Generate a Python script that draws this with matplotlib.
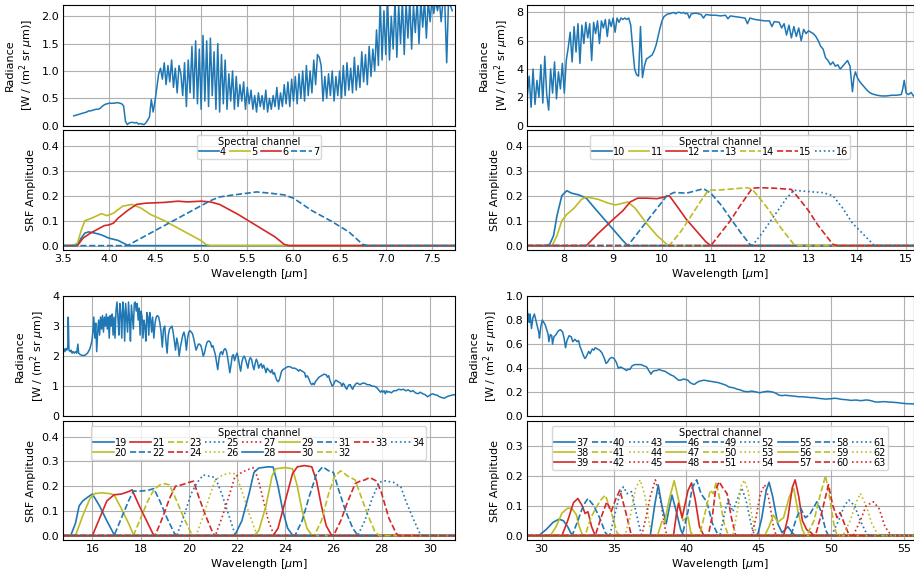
import matplotlib.pyplot as plt
import numpy as np

plt.rcParams['font.size'] = 8
plt.rcParams['xtick.major.size'] = 0
plt.rcParams['ytick.major.size'] = 0
plt.rcParams['xtick.major.pad'] = 3
plt.rcParams['ytick.major.pad'] = 2.5

BLUE, OLIVE, RED = '#1f77b4', '#bcbd22', '#d62728'
colours = [BLUE, OLIVE, RED]
styles = ['-', '--', ':']

# ---------------------------------------------------------------- radiance
# band 1 is sampled on a regular 0.02 um grid starting at 3.62 um
rad1_start, rad1_step = 3.62, 0.02
rad1 = [0.18, 0.19, 0.20, 0.21, 0.22, 0.23, 0.24, 0.25, 0.27, 0.27, 0.28, 0.29, 0.30, 0.30,
        0.31, 0.34, 0.37, 0.39, 0.40, 0.41, 0.41, 0.41, 0.41, 0.42, 0.42, 0.41, 0.40, 0.36,
        0.08, 0.02, 0.05, 0.06, 0.06, 0.05, 0.06, 0.03, 0.04, 0.03, 0.02, 0.05, 0.10, 0.16,
        0.48, 0.25, 0.45, 0.70, 0.95, 1.05, 0.85, 1.15, 0.75, 1.10, 0.80, 1.20, 0.70, 1.05,
        0.60, 1.10, 0.95, 0.55, 1.15, 0.35, 1.20, 0.60, 1.45, 0.50, 1.55, 0.40, 1.40, 0.30,
        1.65, 0.45, 1.55, 0.35, 1.60, 0.55, 1.35, 0.30, 1.50, 0.25, 1.30, 0.40, 1.20, 0.30,
        0.95, 0.45, 1.00, 0.30, 0.90, 0.35, 0.75, 0.45, 0.80, 0.30, 0.70, 0.40, 0.65, 0.30,
        0.55, 0.25, 0.60, 0.35, 0.55, 0.30, 0.65, 0.25, 0.50, 0.30, 0.55, 0.35, 0.70, 0.30,
        0.60, 0.35, 0.75, 0.40, 0.80, 0.35, 0.85, 0.45, 0.90, 0.40, 0.95, 0.50, 1.00, 0.45,
        1.10, 0.55, 1.00, 0.60, 1.20, 0.75, 1.30, 1.25, 1.10, 0.45, 0.90, 0.50, 0.95, 0.55,
        1.00, 0.45, 0.90, 0.55, 1.00, 0.50, 1.10, 0.55, 1.15, 0.65, 1.05, 0.60, 1.25, 0.65,
        1.10, 0.70, 1.35, 0.80, 1.30, 0.75, 1.45, 0.90, 1.40, 1.00, 1.75, 1.10, 2.30, 1.20,
        2.10, 1.30, 2.30, 1.20, 2.00, 1.40, 2.30, 1.25, 2.20, 1.50, 2.30, 1.30, 2.25, 1.60,
        2.30, 1.40, 2.20, 1.70, 2.30, 1.50, 2.30, 1.80, 2.30, 1.60, 2.30, 1.90, 2.30, 2.05,
        2.30, 2.10, 2.30, 1.90, 2.30, 2.20, 1.15, 2.30, 2.20, 2.10]

rad2 = [(7.24, 2.0), (7.28, 3.5), (7.32, 1.3), (7.36, 4.0), (7.40, 1.5), (7.44, 3.2),
        (7.48, 2.0), (7.52, 4.3), (7.56, 1.6), (7.60, 4.9), (7.64, 2.2), (7.68, 1.1),
        (7.72, 4.0), (7.76, 2.3), (7.80, 4.5), (7.84, 1.9), (7.88, 3.8), (7.92, 2.6),
        (7.96, 4.4), (8.00, 2.3), (8.04, 4.6), (8.08, 5.5), (8.12, 6.6), (8.16, 4.5),
        (8.20, 7.0), (8.24, 5.2), (8.28, 7.2), (8.32, 4.4), (8.36, 7.1), (8.40, 5.8),
        (8.44, 7.3), (8.48, 6.2), (8.52, 7.2), (8.56, 4.6), (8.60, 7.3), (8.64, 6.5),
        (8.68, 7.4), (8.72, 5.8), (8.76, 7.4), (8.80, 6.9), (8.84, 7.5), (8.88, 6.3),
        (8.92, 7.5), (8.96, 7.0), (9.00, 7.6), (9.04, 6.6), (9.08, 7.6), (9.12, 7.3),
        (9.16, 7.6), (9.20, 7.5), (9.24, 7.6), (9.28, 7.5), (9.32, 7.6), (9.36, 7.1),
        (9.40, 5.5), (9.44, 4.0), (9.48, 3.6), (9.52, 3.5), (9.56, 7.0), (9.60, 3.4),
        (9.64, 4.2), (9.68, 4.7), (9.72, 4.8), (9.76, 4.9), (9.80, 5.0), (9.84, 5.3),
        (9.88, 5.7), (9.92, 6.3), (9.96, 6.9), (10.00, 7.4), (10.04, 7.7), (10.08, 7.8),
        (10.12, 7.9), (10.16, 7.9), (10.20, 7.95), (10.24, 8.0), (10.28, 7.9), (10.32, 8.0),
        (10.36, 8.0), (10.40, 7.95), (10.44, 8.0), (10.48, 7.9), (10.52, 7.95), (10.56, 7.6),
        (10.60, 7.9), (10.70, 7.95), (10.80, 7.85), (10.85, 7.6), (10.90, 7.85), (11.00, 7.8),
        (11.10, 7.8), (11.20, 7.75), (11.30, 7.8), (11.35, 7.55), (11.40, 7.75), (11.50, 7.7),
        (11.60, 7.65), (11.70, 7.6), (11.75, 7.2), (11.80, 7.6), (11.90, 7.5), (12.00, 7.45),
        (12.10, 7.4), (12.20, 7.4), (12.25, 7.0), (12.30, 7.35), (12.40, 7.3), (12.45, 6.9),
        (12.50, 7.2), (12.55, 6.4), (12.60, 7.1), (12.65, 6.2), (12.70, 7.0), (12.75, 6.3),
        (12.80, 6.9), (12.85, 6.0), (12.90, 6.8), (12.95, 6.5), (13.00, 6.7), (13.05, 6.6),
        (13.10, 6.5), (13.15, 6.3), (13.20, 6.0), (13.25, 5.6), (13.30, 5.4), (13.35, 4.8),
        (13.40, 4.6), (13.45, 4.3), (13.50, 4.5), (13.55, 4.2), (13.60, 4.3), (13.65, 4.0),
        (13.70, 4.2), (13.75, 4.4), (13.80, 4.6), (13.85, 4.2), (13.90, 2.4), (13.93, 3.4),
        (13.96, 3.8), (14.00, 3.4), (14.05, 3.1), (14.10, 2.9), (14.15, 2.7), (14.20, 2.5),
        (14.25, 2.35), (14.30, 2.25), (14.40, 2.15), (14.50, 2.1), (14.60, 2.1), (14.70, 2.15),
        (14.80, 2.15), (14.90, 2.2), (14.93, 2.6), (14.96, 3.2), (15.00, 2.3), (15.05, 2.2),
        (15.10, 2.35), (15.15, 2.1)]

rad3 = [(14.78, 2.2), (14.82, 2.25), (14.86, 2.15), (14.90, 2.25), (14.94, 2.2), (14.98, 2.3),
        (15.00, 3.3), (15.03, 2.2), (15.08, 2.15), (15.12, 2.2), (15.16, 2.1), (15.20, 2.15),
        (15.25, 2.1), (15.30, 2.15), (15.35, 2.1), (15.40, 2.4), (15.43, 2.1), (15.50, 2.05),
        (15.60, 2.02), (15.70, 2.03), (15.80, 2.1), (15.90, 2.25), (15.98, 2.5), (16.02, 2.8),
        (16.06, 3.3), (16.10, 2.6), (16.14, 3.1), (16.18, 2.15), (16.22, 2.8), (16.26, 3.2),
        (16.30, 2.7), (16.34, 3.3), (16.38, 2.9), (16.42, 3.35), (16.46, 2.8), (16.50, 3.3),
        (16.54, 3.0), (16.58, 3.4), (16.62, 2.9), (16.66, 3.3), (16.70, 2.6), (16.74, 3.35),
        (16.78, 3.0), (16.82, 3.4), (16.86, 2.7), (16.90, 3.3), (16.94, 2.6), (16.98, 3.5),
        (17.02, 3.8), (17.06, 3.3), (17.10, 2.7), (17.14, 3.75), (17.18, 3.4), (17.22, 2.6),
        (17.26, 3.8), (17.30, 3.5), (17.34, 2.5), (17.38, 3.75), (17.42, 3.3), (17.46, 2.8),
        (17.50, 3.8), (17.54, 3.2), (17.58, 2.5), (17.62, 3.7), (17.66, 3.3), (17.70, 2.9),
        (17.74, 3.75), (17.78, 3.8), (17.82, 3.5), (17.86, 3.75), (17.90, 3.2), (17.94, 3.6),
        (17.98, 2.7), (18.02, 3.5), (18.06, 3.3), (18.10, 2.6), (18.14, 3.2), (18.18, 3.0),
        (18.22, 2.5), (18.26, 3.45), (18.30, 3.3), (18.34, 2.7), (18.38, 3.45), (18.42, 3.2),
        (18.46, 2.8), (18.50, 3.3), (18.55, 2.6), (18.60, 3.1), (18.65, 3.3), (18.70, 3.35),
        (18.75, 3.3), (18.80, 3.1), (18.85, 2.8), (18.90, 2.3), (18.95, 2.9), (19.00, 3.0),
        (19.05, 2.5), (19.10, 2.1), (19.15, 2.7), (19.20, 2.9), (19.25, 2.95), (19.30, 3.0),
        (19.35, 2.8), (19.40, 2.5), (19.45, 2.2), (19.50, 2.6), (19.55, 2.4), (19.60, 2.0),
        (19.65, 2.3), (19.70, 2.5), (19.75, 2.7), (19.80, 2.8), (19.85, 2.6), (19.90, 2.2),
        (19.95, 2.6), (20.00, 2.8), (20.05, 2.85), (20.10, 2.8), (20.15, 2.75), (20.20, 2.6),
        (20.25, 2.4), (20.30, 2.2), (20.35, 2.3), (20.40, 2.4), (20.45, 2.4), (20.50, 2.35),
        (20.55, 2.2), (20.60, 2.0), (20.65, 2.1), (20.70, 2.3), (20.75, 2.45), (20.80, 2.5),
        (20.85, 2.5), (20.90, 2.45), (20.95, 2.3), (21.00, 2.35), (21.05, 2.2), (21.10, 2.05),
        (21.15, 1.8), (21.20, 1.55), (21.25, 1.9), (21.30, 2.1), (21.35, 2.15), (21.40, 2.05),
        (21.45, 2.2), (21.50, 2.25), (21.55, 2.2), (21.60, 2.0), (21.65, 1.75), (21.70, 1.45),
        (21.75, 1.7), (21.80, 2.0), (21.85, 2.05), (21.90, 1.85), (21.95, 2.0), (22.00, 2.1),
        (22.05, 1.95), (22.10, 1.7), (22.15, 1.5), (22.20, 1.8), (22.25, 1.95), (22.30, 2.0),
        (22.35, 1.9), (22.40, 1.75), (22.45, 1.6), (22.50, 1.85), (22.55, 1.95), (22.60, 1.9),
        (22.65, 1.7), (22.70, 1.55), (22.75, 1.75), (22.80, 1.9), (22.85, 1.8), (22.90, 1.6),
        (22.95, 1.7), (23.00, 1.75), (23.05, 1.6), (23.10, 1.7), (23.15, 1.6), (23.20, 1.45),
        (23.25, 1.6), (23.30, 1.55), (23.35, 1.5), (23.40, 1.45), (23.45, 1.55), (23.50, 1.4),
        (23.55, 1.45), (23.60, 1.3), (23.65, 1.2), (23.70, 1.15), (23.75, 1.2), (23.80, 1.35),
        (23.85, 1.5), (23.90, 1.55), (24.00, 1.6), (24.10, 1.65), (24.20, 1.65), (24.30, 1.6),
        (24.40, 1.6), (24.50, 1.55), (24.55, 1.5), (24.60, 1.55), (24.70, 1.5), (24.80, 1.45),
        (24.85, 1.3), (24.90, 1.35), (24.95, 1.3), (25.00, 1.2), (25.05, 1.1), (25.10, 1.05),
        (25.15, 1.1), (25.20, 1.05), (25.25, 1.15), (25.30, 1.2), (25.35, 1.25), (25.40, 1.3),
        (25.50, 1.35), (25.60, 1.4), (25.70, 1.38), (25.75, 1.3), (25.80, 1.35), (25.85, 1.2),
        (25.90, 1.1), (25.95, 1.0), (26.00, 1.05), (26.05, 1.15), (26.10, 1.2), (26.20, 1.15),
        (26.30, 1.1), (26.35, 1.0), (26.40, 1.1), (26.45, 1.05), (26.50, 0.95), (26.55, 0.9),
        (26.60, 1.0), (26.65, 1.05), (26.70, 1.05), (26.75, 0.95), (26.80, 0.9), (26.85, 1.0),
        (26.90, 1.05), (26.95, 1.1), (27.00, 1.1), (27.10, 1.05), (27.20, 1.1), (27.30, 1.1),
        (27.40, 1.05), (27.50, 1.05), (27.60, 1.0), (27.70, 1.0), (27.80, 0.95), (27.85, 0.9),
        (27.90, 0.85), (27.95, 0.8), (28.00, 0.85), (28.05, 0.8), (28.10, 0.85), (28.15, 0.75),
        (28.20, 0.85), (28.25, 0.8), (28.30, 0.82), (28.40, 0.78), (28.50, 0.85), (28.60, 0.85),
        (28.70, 0.9), (28.80, 0.88), (28.90, 0.9), (29.00, 0.85), (29.10, 0.88), (29.20, 0.82),
        (29.30, 0.85), (29.40, 0.78), (29.50, 0.75), (29.60, 0.8), (29.70, 0.75), (29.80, 0.72),
        (29.90, 0.65), (30.00, 0.7), (30.10, 0.75), (30.20, 0.72), (30.30, 0.7), (30.40, 0.65),
        (30.50, 0.62), (30.60, 0.6), (30.70, 0.65), (30.80, 0.68), (30.90, 0.7), (31.00, 0.72),
        (31.05, 0.71)]

rad4 = [(29.00, 0.9), (29.05, 0.8), (29.10, 0.85), (29.15, 0.78), (29.20, 0.85), (29.25, 0.8),
        (29.30, 0.73), (29.40, 0.82), (29.50, 0.85), (29.60, 0.8), (29.70, 0.75), (29.80, 0.7),
        (29.85, 0.65), (29.95, 0.75), (30.05, 0.8), (30.15, 0.78), (30.25, 0.76), (30.35, 0.72),
        (30.45, 0.68), (30.50, 0.62), (30.60, 0.68), (30.70, 0.67), (30.75, 0.6), (30.85, 0.66),
        (31.00, 0.68), (31.15, 0.71), (31.30, 0.72), (31.45, 0.7), (31.55, 0.65), (31.65, 0.57),
        (31.75, 0.63), (31.90, 0.67), (32.05, 0.66), (32.15, 0.62), (32.30, 0.64), (32.45, 0.62),
        (32.55, 0.63), (32.65, 0.58), (32.75, 0.55), (32.90, 0.5), (33.00, 0.48), (33.10, 0.5),
        (33.25, 0.54), (33.35, 0.52), (33.50, 0.56), (33.60, 0.55), (33.70, 0.57), (33.85, 0.56),
        (34.00, 0.55), (34.15, 0.53), (34.30, 0.49), (34.45, 0.44), (34.55, 0.45), (34.70, 0.48),
        (34.85, 0.49), (35.00, 0.48), (35.15, 0.45), (35.30, 0.4), (35.45, 0.41), (35.60, 0.4),
        (35.75, 0.39), (35.85, 0.38), (35.95, 0.39), (36.10, 0.39), (36.25, 0.42), (36.45, 0.43),
        (36.65, 0.43), (36.85, 0.43), (37.05, 0.42), (37.25, 0.41), (37.40, 0.38), (37.55, 0.35),
        (37.65, 0.37), (37.80, 0.38), (37.95, 0.38), (38.10, 0.39), (38.30, 0.38), (38.50, 0.375),
        (38.70, 0.36), (38.90, 0.345), (39.10, 0.335), (39.30, 0.315), (39.45, 0.3), (39.60, 0.3),
        (39.80, 0.31), (39.95, 0.305), (40.10, 0.3), (40.25, 0.28), (40.40, 0.27), (40.55, 0.265),
        (40.70, 0.28), (40.85, 0.29), (41.00, 0.295), (41.20, 0.3), (41.45, 0.295), (41.70, 0.29),
        (41.95, 0.285), (42.20, 0.28), (42.45, 0.27), (42.70, 0.26), (42.90, 0.245), (43.10, 0.24),
        (43.30, 0.235), (43.50, 0.225), (43.70, 0.22), (43.90, 0.21), (44.10, 0.205), (44.30, 0.205),
        (44.50, 0.21), (44.70, 0.205), (44.90, 0.2), (45.05, 0.195), (45.20, 0.2), (45.40, 0.205),
        (45.60, 0.208), (45.80, 0.205), (46.00, 0.2), (46.20, 0.19), (46.40, 0.175), (46.60, 0.172),
        (46.80, 0.175), (47.00, 0.173), (47.20, 0.17), (47.40, 0.168), (47.60, 0.165), (47.80, 0.162),
        (48.00, 0.163), (48.20, 0.16), (48.40, 0.158), (48.60, 0.155), (48.80, 0.155), (49.00, 0.152),
        (49.20, 0.148), (49.40, 0.146), (49.60, 0.143), (49.80, 0.145), (50.00, 0.146), (50.20, 0.15),
        (50.40, 0.148), (50.60, 0.143), (50.80, 0.14), (51.00, 0.138), (51.20, 0.135), (51.40, 0.132),
        (51.60, 0.135), (51.80, 0.134), (52.00, 0.13), (52.20, 0.132), (52.40, 0.136), (52.60, 0.133),
        (52.80, 0.128), (53.00, 0.12), (53.20, 0.118), (53.40, 0.12), (53.60, 0.122), (53.80, 0.12),
        (54.00, 0.118), (54.20, 0.117), (54.40, 0.115), (54.60, 0.113), (54.80, 0.11), (55.00, 0.107),
        (55.20, 0.105), (55.40, 0.104), (55.67, 0.103)]

# ---------------------------------------------------------------- SRFs
# (wavelength, amplitude) knots of the non-zero part of each channel
b1_channels = [4, 5, 6, 7]
b1_srf = [
    [(3.62, 0), (3.66, 0.005), (3.70, 0.03), (3.74, 0.05), (3.78, 0.055), (3.85, 0.05),
     (3.92, 0.043), (4.0, 0.03), (4.1, 0.021), (4.2, 0.002), (4.22, 0)],
    [(3.62, 0.002), (3.66, 0.01), (3.70, 0.06), (3.74, 0.1), (3.78, 0.105), (3.85, 0.116),
     (3.92, 0.128), (3.98, 0.12), (4.05, 0.13), (4.15, 0.158), (4.25, 0.165), (4.35, 0.15),
     (4.45, 0.125), (4.6, 0.1), (4.75, 0.07), (4.9, 0.04), (5.0, 0.02), (5.05, 0.005), (5.1, 0)],
    [(3.66, 0), (3.72, 0.03), (3.8, 0.05), (3.9, 0.07), (3.95, 0.08), (4.0, 0.083), (4.05, 0.09),
     (4.1, 0.11), (4.2, 0.14), (4.3, 0.165), (4.4, 0.17), (4.6, 0.173), (4.75, 0.178),
     (4.85, 0.175), (5.0, 0.178), (5.1, 0.175), (5.2, 0.165), (5.4, 0.125), (5.6, 0.08),
     (5.8, 0.035), (5.9, 0.005), (5.95, 0)],
    [(4.2, 0), (4.4, 0.04), (4.6, 0.08), (4.8, 0.12), (5.0, 0.16), (5.1, 0.18), (5.2, 0.195),
     (5.35, 0.203), (5.5, 0.21), (5.6, 0.215), (5.75, 0.21), (5.9, 0.203), (6.0, 0.19),
     (6.2, 0.14), (6.4, 0.1), (6.6, 0.055), (6.75, 0.005), (6.8, 0)],
]

b2_channels = [10, 11, 12, 13, 14, 15, 16]
b2_srf = [
    [(7.6, 0), (7.7, 0.005), (7.78, 0.04), (7.85, 0.12), (7.95, 0.2), (8.05, 0.22), (8.15, 0.21),
     (8.3, 0.203), (8.45, 0.19), (8.6, 0.155), (8.8, 0.11), (9.0, 0.065), (9.2, 0.02), (9.3, 0)],
    [(7.75, 0), (7.85, 0.04), (7.95, 0.1), (8.05, 0.125), (8.2, 0.15), (8.35, 0.185),
     (8.45, 0.195), (8.7, 0.185), (8.9, 0.17), (9.05, 0.163), (9.2, 0.17), (9.3, 0.175),
     (9.45, 0.15), (9.7, 0.085), (9.9, 0.04), (10.1, 0.005), (10.15, 0)],
    [(8.45, 0), (8.7, 0.05), (9.0, 0.105), (9.2, 0.14), (9.35, 0.175), (9.5, 0.19), (9.7, 0.19),
     (9.9, 0.188), (10.05, 0.195), (10.15, 0.2), (10.3, 0.16), (10.5, 0.105), (10.7, 0.06),
     (10.9, 0.015), (11.0, 0)],
    [(9.3, 0), (9.5, 0.05), (9.7, 0.1), (9.9, 0.15), (10.1, 0.2), (10.25, 0.213), (10.5, 0.21),
     (10.7, 0.22), (10.85, 0.228), (11.0, 0.21), (11.2, 0.165), (11.4, 0.11), (11.6, 0.055),
     (11.8, 0.005), (11.85, 0)],
    [(10.15, 0), (10.4, 0.06), (10.6, 0.12), (10.8, 0.18), (10.95, 0.222), (11.2, 0.223),
     (11.5, 0.228), (11.75, 0.232), (11.85, 0.225), (12.0, 0.19), (12.2, 0.14), (12.4, 0.08),
     (12.6, 0.03), (12.7, 0.005), (12.8, 0)],
    [(11.0, 0), (11.2, 0.05), (11.4, 0.1), (11.6, 0.16), (11.85, 0.23), (12.0, 0.232),
     (12.3, 0.23), (12.65, 0.225), (12.8, 0.19), (13.0, 0.14), (13.2, 0.08), (13.4, 0.03),
     (13.5, 0.005), (13.6, 0)],
    [(11.85, 0), (12.05, 0.05), (12.3, 0.12), (12.55, 0.19), (12.7, 0.222), (12.9, 0.218),
     (13.1, 0.215), (13.3, 0.212), (13.5, 0.2), (13.7, 0.15), (13.9, 0.09), (14.1, 0.05),
     (14.3, 0.01), (14.35, 0)],
]

b3_channels = list(range(19, 35))
b3_srf = [
    [(15.1, 0), (15.3, 0.05), (15.45, 0.12), (15.6, 0.14), (15.8, 0.155), (16.0, 0.168),
     (16.3, 0.12), (16.6, 0.06), (16.9, 0.005), (17.0, 0)],
    [(15.3, 0), (15.6, 0.08), (15.9, 0.15), (16.1, 0.17), (16.4, 0.173), (16.7, 0.17),
     (16.9, 0.165), (17.2, 0.11), (17.5, 0.05), (17.7, 0.005), (17.8, 0)],
    [(16.0, 0), (16.3, 0.07), (16.6, 0.14), (16.9, 0.165), (17.2, 0.168), (17.5, 0.178),
     (17.65, 0.185), (17.9, 0.13), (18.2, 0.07), (18.5, 0.01), (18.6, 0)],
    [(16.9, 0), (17.2, 0.07), (17.5, 0.14), (17.7, 0.18), (18.0, 0.18), (18.3, 0.183),
     (18.55, 0.19), (18.8, 0.14), (19.1, 0.07), (19.4, 0.01), (19.5, 0)],
    [(17.7, 0), (18.0, 0.07), (18.3, 0.14), (18.55, 0.185), (18.8, 0.205), (19.0, 0.21),
     (19.2, 0.205), (19.5, 0.14), (19.8, 0.07), (20.1, 0.01), (20.2, 0)],
    [(18.6, 0), (18.9, 0.07), (19.2, 0.15), (19.45, 0.2), (19.7, 0.205), (20.0, 0.215),
     (20.2, 0.22), (20.4, 0.16), (20.7, 0.08), (21.0, 0.01), (21.1, 0)],
    [(19.5, 0), (19.8, 0.08), (20.1, 0.17), (20.35, 0.215), (20.6, 0.245), (20.85, 0.24),
     (21.1, 0.235), (21.4, 0.16), (21.7, 0.07), (21.9, 0.01), (22.0, 0)],
    [(20.3, 0), (20.6, 0.08), (20.9, 0.17), (21.1, 0.225), (21.4, 0.245), (21.7, 0.252),
     (21.95, 0.25), (22.2, 0.18), (22.5, 0.09), (22.8, 0.01), (22.9, 0)],
    [(21.1, 0), (21.4, 0.08), (21.7, 0.17), (21.9, 0.235), (22.1, 0.25), (22.4, 0.265),
     (22.7, 0.275), (22.9, 0.22), (23.1, 0.14), (23.3, 0.06), (23.5, 0.01), (23.6, 0)],
    [(21.9, 0), (22.2, 0.06), (22.5, 0.17), (22.7, 0.255), (22.9, 0.273), (23.3, 0.278),
     (23.5, 0.277), (23.7, 0.2), (23.9, 0.1), (24.1, 0.03), (24.3, 0.002), (24.4, 0)],
    [(22.7, 0), (22.9, 0.02), (23.2, 0.12), (23.45, 0.24), (23.6, 0.27), (24.0, 0.275),
     (24.3, 0.27), (24.5, 0.2), (24.7, 0.1), (24.9, 0.03), (25.1, 0.002), (25.2, 0)],
    [(23.5, 0), (23.7, 0.03), (24.0, 0.14), (24.3, 0.25), (24.5, 0.278), (24.8, 0.283),
     (25.1, 0.278), (25.3, 0.22), (25.5, 0.12), (25.7, 0.04), (25.9, 0.005), (26.0, 0)],
    [(24.4, 0), (24.7, 0.06), (25.0, 0.16), (25.3, 0.25), (25.55, 0.278), (25.8, 0.262),
     (26.0, 0.255), (26.2, 0.19), (26.5, 0.1), (26.8, 0.03), (27.0, 0.002), (27.1, 0)],
    [(25.2, 0), (25.5, 0.06), (25.8, 0.17), (26.05, 0.24), (26.3, 0.262), (26.6, 0.24),
     (26.9, 0.225), (27.1, 0.17), (27.4, 0.09), (27.7, 0.02), (27.9, 0)],
    [(26.0, 0), (26.3, 0.06), (26.6, 0.14), (26.9, 0.21), (27.1, 0.22), (27.3, 0.225),
     (27.5, 0.235), (27.8, 0.22), (28.0, 0.17), (28.3, 0.07), (28.6, 0.01), (28.7, 0)],
    [(27.0, 0), (27.3, 0.06), (27.6, 0.15), (27.9, 0.215), (28.1, 0.222), (28.5, 0.215),
     (28.8, 0.195), (29.0, 0.14), (29.3, 0.07), (29.6, 0.005), (29.7, 0)],
]

b4_channels = list(range(37, 64))
b4_srf = [
    [(29.8, 0), (30.3, 0.02), (30.8, 0.045), (31.2, 0.055), (31.5, 0.05), (31.8, 0.03),
     (32.0, 0.01), (32.2, 0)],
    [(30.6, 0), (31.0, 0.03), (31.4, 0.075), (31.8, 0.092), (32.1, 0.09), (32.4, 0.07),
     (32.6, 0.03), (32.8, 0.005), (33.0, 0)],
    [(31.4, 0), (31.8, 0.05), (32.2, 0.11), (32.5, 0.124), (32.8, 0.1), (33.0, 0.074),
     (33.2, 0.08), (33.45, 0.03), (33.7, 0)],
    [(32.1, 0), (32.5, 0.05), (32.8, 0.09), (33.0, 0.11), (33.2, 0.124), (33.6, 0.1),
     (34.0, 0.06), (34.4, 0.01), (34.6, 0)],
    [(33.0, 0), (33.4, 0.06), (33.8, 0.097), (34.1, 0.12), (34.4, 0.135), (34.8, 0.08),
     (35.2, 0.01), (35.4, 0)],
    [(33.7, 0), (34.1, 0.06), (34.5, 0.113), (34.8, 0.08), (35.1, 0.12), (35.4, 0.152),
     (35.8, 0.08), (36.2, 0)],
    [(34.7, 0), (35.1, 0.08), (35.4, 0.14), (35.65, 0.163), (35.9, 0.14), (36.2, 0.147),
     (36.6, 0.06), (36.9, 0)],
    [(35.75, 0), (36.1, 0.06), (36.5, 0.16), (36.8, 0.186), (37.1, 0.14), (37.4, 0.05),
     (37.6, 0)],
    [(36.9, 0), (37.2, 0.06), (37.5, 0.13), (37.85, 0.186), (38.2, 0.12), (38.5, 0.03),
     (38.65, 0)],
    [(37.5, 0), (37.8, 0.1), (38.05, 0.169), (38.3, 0.1), (38.6, 0.04), (38.8, 0.09),
     (39.0, 0.135), (39.3, 0.08), (39.6, 0.02), (39.8, 0)],
    [(38.0, 0), (38.3, 0.047), (38.5, 0.045), (38.8, 0.12), (39.15, 0.183), (39.45, 0.12),
     (39.75, 0.05), (40.1, 0.063), (40.3, 0.01), (40.5, 0)],
    [(39.1, 0), (39.3, 0.07), (39.45, 0.108), (39.7, 0.06), (40.1, 0.15), (40.35, 0.176),
     (40.6, 0.12), (40.9, 0.03), (41.2, 0)],
    [(39.7, 0), (40.1, 0.08), (40.4, 0.16), (40.7, 0.186), (41.0, 0.14), (41.4, 0.113),
     (41.8, 0.04), (42.2, 0)],
    [(40.9, 0), (41.3, 0.08), (41.65, 0.152), (41.85, 0.14), (42.05, 0.178), (42.3, 0.12),
     (42.6, 0.04), (42.9, 0)],
    [(41.5, 0), (41.8, 0.07), (42.0, 0.15), (42.25, 0.18), (42.5, 0.16), (42.8, 0.14),
     (43.1, 0.06), (43.4, 0)],
    [(42.3, 0), (42.7, 0.09), (42.9, 0.119), (43.2, 0.08), (43.5, 0.12), (43.8, 0.16),
     (44.1, 0.12), (44.5, 0.03), (44.7, 0)],
    [(43.2, 0), (43.5, 0.08), (43.8, 0.17), (44.0, 0.185), (44.25, 0.15), (44.5, 0.07),
     (44.8, 0.01), (45.0, 0)],
    [(44.5, 0), (44.8, 0.06), (45.1, 0.14), (45.4, 0.17), (45.7, 0.12), (46.0, 0.03),
     (46.2, 0)],
    [(44.9, 0), (45.2, 0.06), (45.5, 0.15), (45.7, 0.178), (45.95, 0.13), (46.3, 0.04),
     (46.6, 0.01), (47.0, 0.03), (47.3, 0.01), (47.5, 0)],
    [(45.4, 0), (45.7, 0.03), (46.0, 0.069), (46.3, 0.045), (46.7, 0.06), (47.1, 0.13),
     (47.4, 0.158), (47.7, 0.08), (48.0, 0.02), (48.2, 0)],
    [(46.7, 0), (47.0, 0.06), (47.3, 0.16), (47.5, 0.186), (47.75, 0.13), (48.0, 0.05),
     (48.3, 0.02), (48.6, 0.01), (48.8, 0)],
    [(47.2, 0), (47.6, 0.06), (47.9, 0.09), (48.2, 0.06), (48.5, 0.07), (49.0, 0.113),
     (49.3, 0.08), (49.6, 0.02), (49.8, 0)],
    [(48.3, 0), (48.8, 0.05), (49.2, 0.13), (49.6, 0.2), (49.9, 0.12), (50.2, 0.03),
     (50.4, 0)],
    [(48.9, 0), (49.3, 0.07), (49.8, 0.17), (50.1, 0.1), (50.4, 0.06), (50.6, 0.077),
     (50.9, 0.04), (51.2, 0.005), (51.4, 0)],
    [(50.0, 0), (50.5, 0.05), (50.9, 0.1), (51.2, 0.119), (51.6, 0.1), (52.0, 0.05),
     (52.4, 0.01), (52.6, 0)],
    [(50.8, 0), (51.3, 0.05), (51.7, 0.11), (52.0, 0.141), (52.4, 0.1), (52.8, 0.04),
     (53.2, 0.005), (53.4, 0)],
    [(51.5, 0), (52.0, 0.05), (52.4, 0.1), (52.9, 0.113), (53.3, 0.09), (53.7, 0.03),
     (54.1, 0.003), (54.3, 0)],
]

# wavelength range covered by each band
b1_range = (3.5, 7.75)
b2_range = (7.23, 15.15)
b3_range = (14.77, 31.04)
b4_range = (28.97, 55.67)

W, H = 914, 577


def rect(x0, x1, y0, y1):
    ''' pixel box (top-left origin) -> figure fraction'''
    return [x0 / W, 1 - y1 / H, (x1 - x0) / W, (y1 - y0) / H]


def draw_band(fig, cols, rows, wl, rad, wl_range, rad_lim, rad_ticks,
              channels, srfs, srf_lim, srf_ticks, xticks):
    ax1 = fig.add_axes(rect(cols[0], cols[1], rows[0], rows[1]))
    ax2 = fig.add_axes(rect(cols[0], cols[1], rows[2], rows[3]), sharex=ax1)

    ax1.plot(wl, rad, color=BLUE, lw=1.1)
    ax1.set_ylim(rad_lim)
    ax1.set_yticks(rad_ticks)
    ax1.set_ylabel('Radiance\n[W / (m$^2$ sr $\\mu$m)]')
    ax1.tick_params(labelbottom=False)
    ax1.grid(True)

    for k, (ch, pts) in enumerate(zip(channels, srfs)):
        x = [wl_range[0]] + [p[0] for p in pts] + [wl_range[1]]
        y = [0.0] + [p[1] for p in pts] + [0.0]
        ax2.plot(x, y, color=colours[k % 3], ls=styles[(k // 3) % 3], lw=1.2, label=str(ch))
    ax2.set_ylim(srf_lim)
    ax2.set_yticks(srf_ticks)
    ax2.set_xlim(wl_range)
    ax2.set_xticks(xticks)
    ax2.set_ylabel('SRF Amplitude')
    ax2.set_xlabel('Wavelength [$\\mu$m]', labelpad=2)
    ax2.grid(True)
    ax2.legend(ncol=min(len(channels), 9), loc='upper center', title='Spectral channel',
               fontsize=7, title_fontsize=7, handlelength=2.1, handletextpad=0.1,
               columnspacing=0.35, labelspacing=0.0, borderpad=0.2)
    return ax1, ax2


fig = plt.figure(figsize=(W / 100, H / 100), dpi=100)

left, right = (62.7, 455), (526.7, 913.5)
top, bottom = (5.3, 125.7, 130, 250), (296, 416.3, 421, 540)

wl1 = rad1_start + rad1_step * np.arange(len(rad1))
wl2, r2 = np.array(rad2).T
wl3, r3 = np.array(rad3).T
wl4, r4 = np.array(rad4).T

draw_band(fig, left, top, wl1, rad1, b1_range, (0, 2.2), np.arange(0, 2.01, 0.5),
          b1_channels, b1_srf, (-0.0175, 0.463), np.arange(0, 0.41, 0.1),
          np.arange(3.5, 7.51, 0.5))
draw_band(fig, right, top, wl2, r2, b2_range, (0, 8.5), [0, 2, 4, 6, 8],
          b2_channels, b2_srf, (-0.0175, 0.463), np.arange(0, 0.41, 0.1),
          np.arange(8, 16, 1))
draw_band(fig, left, bottom, wl3, r3, b3_range, (0, 4), [0, 1, 2, 3, 4],
          b3_channels, b3_srf, (-0.0175, 0.463), np.arange(0, 0.41, 0.1),
          np.arange(16, 31, 2))
draw_band(fig, right, bottom, wl4, r4, b4_range, (0, 1.0), np.arange(0, 1.01, 0.2),
          b4_channels, b4_srf, (-0.0143, 0.382), np.arange(0, 0.31, 0.1),
          np.arange(30, 56, 5))

plt.savefig('out.png', dpi=100)
